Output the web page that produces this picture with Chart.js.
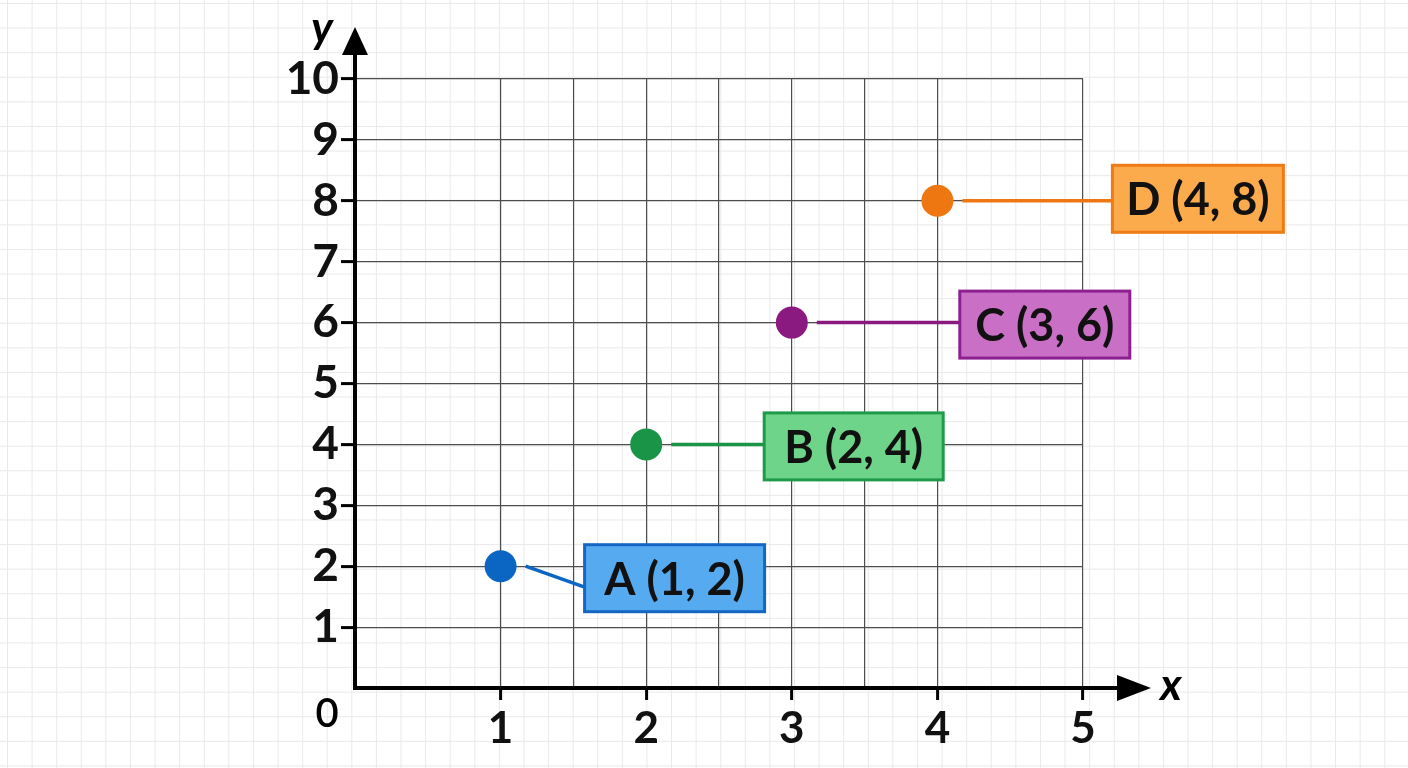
<!DOCTYPE html>
<html>
<head>
<meta charset="utf-8">
<script src="https://cdn.jsdelivr.net/npm/chart.js@4"></script>
<style>
  html, body { margin: 0; padding: 0; width: 1408px; height: 768px; overflow: hidden; }
  body {
    background-color: #ffffff;
    background-image:
      linear-gradient(#e9e9e9 1px, transparent 1px),
      linear-gradient(90deg, #e9e9e9 1px, transparent 1px);
    background-size: 24.6px 24.6px;
    background-position: 7px 3px;
  }
  #wrap { position: absolute; left: 0; top: 0; width: 1408px; height: 768px; }
</style>
</head>
<body>
<div id="wrap"><canvas id="c" width="1408" height="768"></canvas></div>
<script>
// ---- data ----
const pointNames = ["A", "B", "C", "D"];
const xValues = [1, 2, 3, 4];
const yValues = [2, 4, 6, 8];
const xGridValues = [1, 1.5, 2, 2.5, 3, 3.5, 4, 5];
const yTickValues = [0, 1, 2, 3, 4, 5, 6, 7, 8, 9, 10];
const xAxisTitle = "x";
const yAxisTitle = "y";
const originLabel = "0";

// ---- styles ----
const pointColors = ["#0b65c2", "#1a9446", "#8a1a80", "#ee7712"];
const boxFills = ["#55aaf0", "#6dd48a", "#c96fc6", "#fbab4c"];
const boxBorders = ["#1566c2", "#1f9a4a", "#8c2090", "#ef7b14"];
const boxOffsetX = [84, 118, 168, 175];
const boxOffsetY = [12, 2, 2, -2];
const boxW = [180, 179, 170, 171];
const boxH = 67;
const FONT = "Lato, 'Open Sans', sans-serif";

const labels = pointNames.map((n, i) => `${n} (${xValues[i]}, ${yValues[i]})`);

const overlay = {
  id: 'overlay',
  beforeDatasetsDraw(chart) {
    const ctx = chart.ctx;
    const xs = chart.scales.x, ys = chart.scales.y;
    const x0 = xs.getPixelForValue(0), y0 = ys.getPixelForValue(0);
    const yTop = ys.getPixelForValue(10);
    const xRight = xs.getPixelForValue(5);
    ctx.save();
    ctx.strokeStyle = '#000';
    ctx.fillStyle = '#000';
    ctx.lineWidth = 4;
    ctx.lineCap = 'butt';
    // y axis
    ctx.beginPath();
    ctx.moveTo(x0, y0 + 2);
    ctx.lineTo(x0, yTop - 30);
    ctx.stroke();
    ctx.beginPath();
    ctx.moveTo(x0, yTop - 52);
    ctx.lineTo(x0 - 13, yTop - 24);
    ctx.lineTo(x0 + 13, yTop - 24);
    ctx.closePath();
    ctx.fill();
    // x axis
    ctx.beginPath();
    ctx.moveTo(x0 - 2, y0);
    ctx.lineTo(xRight + 40, y0);
    ctx.stroke();
    ctx.beginPath();
    ctx.moveTo(xRight + 68, y0);
    ctx.lineTo(xRight + 34, y0 - 13);
    ctx.lineTo(xRight + 34, y0 + 13);
    ctx.closePath();
    ctx.fill();
    // axis titles
    ctx.font = `italic bold 44px ${FONT}`;
    ctx.textAlign = 'center';
    ctx.textBaseline = 'middle';
    ctx.fillText(yAxisTitle, x0 - 33, yTop - 50);
    ctx.fillText(xAxisTitle, xRight + 88, y0 - 2);
    // origin
    ctx.font = `600 40px ${FONT}`;
    ctx.fillText(originLabel, x0 - 28, y0 + 26);
    ctx.restore();
  },
  afterDatasetsDraw(chart) {
    const ctx = chart.ctx;
    const meta = chart.getDatasetMeta(0);
    ctx.save();
    meta.data.forEach((pt, i) => {
      const px = pt.x, py = pt.y;
      const bx = px + boxOffsetX[i];
      const cy = py + boxOffsetY[i];
      const by = cy - boxH / 2;
      // connector
      ctx.strokeStyle = pointColors[i];
      ctx.lineWidth = 3.5;
      ctx.beginPath();
      ctx.moveTo(px + 25, py);
      ctx.lineTo(bx, i === 0 ? cy + 9 : py);
      ctx.stroke();
      // box
      ctx.fillStyle = boxFills[i];
      ctx.fillRect(bx, by, boxW[i], boxH);
      ctx.strokeStyle = boxBorders[i];
      ctx.lineWidth = 3;
      ctx.strokeRect(bx, by, boxW[i], boxH);
      // text
      ctx.fillStyle = '#111';
      ctx.font = `bold 45px ${FONT}`;
      ctx.textAlign = 'center';
      ctx.textBaseline = 'middle';
      ctx.fillText(labels[i], bx + boxW[i] / 2, cy + 2);
    });
    ctx.restore();
  }
};

new Chart(document.getElementById('c'), {
  type: 'scatter',
  data: {
    datasets: [{
      label: 'points',
      data: xValues.map((x, i) => ({ x: x, y: yValues[i] })),
      pointRadius: 16,
      pointHoverRadius: 16,
      pointBackgroundColor: pointColors,
      pointBorderWidth: 0,
      showLine: false
    }]
  },
  options: {
    responsive: false,
    animation: false,
    events: [],
    layout: { padding: { left: 255, right: 325, top: 79, bottom: 20 } },
    plugins: { legend: { display: false }, tooltip: { enabled: false } },
    scales: {
      x: {
        type: 'linear',
        min: 0, max: 5,
        afterBuildTicks: s => { s.ticks = xGridValues.map(v => ({ value: v })); },
        afterFit: s => { s.height = 60; },
        border: { display: false },
        grid: {
          color: '#4d4d4d',
          lineWidth: 1.2,
          tickLength: 12,
          tickWidth: 3,
          tickColor: c => (c.tick && Number.isInteger(c.tick.value)) ? '#000' : 'rgba(0,0,0,0)'
        },
        ticks: {
          autoSkip: false,
          maxRotation: 0,
          padding: 2,
          color: '#111',
          font: { family: FONT, size: 44, weight: 'bold' },
          callback: v => Number.isInteger(v) ? String(v) : ''
        }
      },
      y: {
        type: 'linear',
        min: 0, max: 10,
        afterBuildTicks: s => { s.ticks = yTickValues.map(v => ({ value: v })); },
        afterFit: s => { s.width = 100; },
        border: { display: false },
        grid: {
          color: c => (c.tick && c.tick.value === 0) ? 'rgba(0,0,0,0)' : '#4d4d4d',
          lineWidth: 1.2,
          tickLength: 14,
          tickWidth: 3,
          tickColor: c => (c.tick && c.tick.value === 0) ? 'rgba(0,0,0,0)' : '#000'
        },
        ticks: {
          autoSkip: false,
          padding: 2,
          color: '#111',
          font: { family: FONT, size: 46, weight: 'bold' },
          callback: v => v === 0 ? '' : String(v)
        }
      }
    }
  },
  plugins: [overlay]
});
</script>
</body>
</html>
